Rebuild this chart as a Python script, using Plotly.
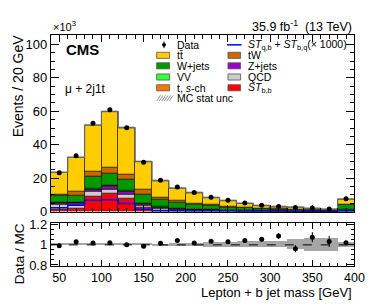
import plotly.graph_objects as go
import numpy as np

# ---------------- data (thousands of events per 20 GeV bin) ----------------
bin_centers = [50, 70, 90, 110, 130, 150, 170, 190, 210, 230, 250, 270, 290, 310, 330, 350, 370, 390]
bin_edges = [40, 60, 80, 100, 120, 140, 160, 180, 200, 220, 240, 260, 280, 300, 320, 340, 360, 380, 400]

data_vals = [23.3, 33.4, 52.8, 61.0, 50.1, 29.5, 18.7, 14.7, 11.4, 8.6, 6.7, 5.1, 3.8, 3.1, 2.5, 2.1, 1.5, 7.6]

st_bb   = [1.5, 2.0, 9.1, 11.0, 8.0, 2.5, 0.2, 0.05, 0.03, 0.02, 0.01, 0.01, 0.01, 0.0, 0.0, 0.0, 0.0, 0.0]
qcd     = [3.0, 2.4, 2.7, 2.5, 2.5, 1.2, 1.4, 0.8, 0.6, 0.5, 0.4, 0.3, 0.25, 0.2, 0.15, 0.1, 0.1, 0.4]
zjets   = [0.6, 0.8, 1.3, 1.5, 1.3, 0.8, 0.9, 0.6, 0.5, 0.4, 0.3, 0.25, 0.2, 0.15, 0.12, 0.1, 0.08, 0.4]
s_ch    = [0.2, 0.3, 0.4, 0.4, 0.4, 0.3, 0.2, 0.15, 0.1, 0.08, 0.06, 0.05, 0.04, 0.03, 0.03, 0.02, 0.02, 0.1]
vv      = [0.1, 0.1, 0.15, 0.15, 0.15, 0.15, 0.1, 0.1, 0.08, 0.07, 0.06, 0.05, 0.04, 0.03, 0.03, 0.02, 0.02, 0.1]
wjets   = [4.0, 4.2, 7.2, 7.0, 6.7, 5.5, 4.6, 3.8, 3.0, 2.4, 1.9, 1.5, 1.2, 1.0, 0.7, 0.6, 0.5, 3.0]
tw      = [0.8, 2.0, 3.2, 3.8, 2.9, 2.5, 1.1, 0.9, 0.7, 0.6, 0.5, 0.4, 0.3, 0.25, 0.2, 0.15, 0.1, 0.3]
ttbar   = [13.3, 20.6, 27.75, 33.45, 28.15, 16.95, 9.9, 7.7, 6.19, 4.23, 3.27, 2.33, 1.56, 1.19, 1.37, 0.96, 0.63, 3.15]

st_qb_x1000 = [2.3, 3.8, 6.7, 7.1, 4.8, 1.4, 0.7, 0.6, 0.5, 0.45, 0.4, 0.35, 0.3, 0.25, 0.2, 0.18, 0.15, 0.4]

ratio_err = [0.004, 0.004, 0.004, 0.004, 0.004, 0.005, 0.006, 0.008, 0.01, 0.012, 0.015, 0.018, 0.022, 0.03, 0.035, 0.05, 0.055, 0.02]
mc_unc_rel = [0.004, 0.004, 0.004, 0.004, 0.004, 0.005, 0.008, 0.012, 0.018, 0.025, 0.028, 0.03, 0.03, 0.03, 0.05, 0.065, 0.065, 0.023]

components = [
    ("ST_bb", st_bb, "#ff0000"),
    ("QCD", qcd, "#cccccc"),
    ("Z+jets", zjets, "#9900cc"),
    ("t, s-ch", s_ch, "#ff7700"),
    ("VV", vv, "#33ff33"),
    ("W+jets", wjets, "#009900"),
    ("tW", tw, "#cc6600"),
    ("ttbar", ttbar, "#ffcc00"),
]

FONT = "Liberation Sans, Arial, sans-serif"
W, H = 374, 307
x0p, x1p = 44, 356
main_top, main_bot = 22.5, 207
rat_top, rat_bot = 219.5, 264.3

def px_x(p):
    return p / W

def px_y(p):
    return 1 - p / H

fig = go.Figure()

# stacked histograms
cum = np.zeros(len(bin_centers))
for name, vals, col in components:
    v = np.array(vals)
    fig.add_trace(go.Bar(x=bin_centers, y=v, base=cum.copy(), width=20,
                         marker=dict(color=col, line=dict(color="black", width=0.6)),
                         showlegend=False, xaxis="x", yaxis="y"))
    cum = cum + v
total = cum

# MC stat unc hatched band
unc_abs = total * np.array(mc_unc_rel)
fig.add_trace(go.Bar(x=bin_centers, y=2 * unc_abs, base=total - unc_abs, width=20,
                     marker=dict(color="rgba(0,0,0,0)", line=dict(width=0),
                                 pattern=dict(shape="/", fgcolor="#555555", bgcolor="rgba(0,0,0,0)", size=4, solidity=0.3)),
                     showlegend=False, xaxis="x", yaxis="y"))

# total outline (step)
tot_step = list(total) + [total[-1]]
fig.add_trace(go.Scatter(x=bin_edges, y=tot_step, mode="lines", line=dict(color="#666666", width=1.2, shape="hv"),
                         showlegend=False, xaxis="x", yaxis="y"))

# ST q,b + ST b,q (x1000) line
st_step = list(st_qb_x1000) + [st_qb_x1000[-1]]
fig.add_trace(go.Scatter(x=bin_edges, y=st_step, mode="lines", line=dict(color="#0000ff", width=1.5, shape="hv"),
                         showlegend=False, xaxis="x", yaxis="y"))

# data points
fig.add_trace(go.Scatter(x=bin_centers, y=data_vals, mode="markers",
                         marker=dict(color="black", size=5),
                         showlegend=False, xaxis="x", yaxis="y"))

# ratio panel
ratio = np.array(data_vals) / total
band = np.array(mc_unc_rel)
fig.add_trace(go.Bar(x=bin_centers, y=2 * band, base=1 - band, width=20,
                     marker=dict(color="#a6a6a6", line=dict(width=0)),
                     showlegend=False, xaxis="x2", yaxis="y2"))
fig.add_trace(go.Scatter(x=bin_centers, y=ratio, mode="markers",
                         marker=dict(color="black", size=5),
                         error_y=dict(type="data", array=ratio_err, color="black", thickness=1, width=0),
                         showlegend=False, xaxis="x2", yaxis="y2"))

shapes = []
# dashed unity line
shapes.append(dict(type="line", xref="x2", yref="y2", x0=40, x1=400, y0=1, y1=1,
                   line=dict(color="black", width=1, dash="dash")))

annotations = []

# legend (manual two-column layout)
rows = [32.3, 43.3, 54.3, 66.0, 77.3, 88.3]
col1_box = (152.7, 166.0)
col2_box = (226.0, 239.0)
col1_txt = 172.0
col2_txt = 244.5
LF = 10.5

def box(xl, xr, yc, color):
    shapes.append(dict(type="rect", xref="paper", yref="paper",
                       x0=px_x(xl), x1=px_x(xr), y0=px_y(yc + 3.2), y1=px_y(yc - 3.2),
                       fillcolor=color, line=dict(color="#555555", width=0.8)))

def text(xp, yc, s, size=LF, anchor="left"):
    annotations.append(dict(x=px_x(xp), y=px_y(yc), xref="paper", yref="paper", text=s,
                            showarrow=False, xanchor=anchor, yanchor="middle",
                            font=dict(family=FONT, size=size, color="black")))

# Data marker in legend
shapes.append(dict(type="circle", xref="paper", yref="paper",
                   x0=px_x(158.3), x1=px_x(162.3), y0=px_y(rows[0] + 2), y1=px_y(rows[0] - 2),
                   fillcolor="black", line=dict(color="black", width=0)))
shapes.append(dict(type="line", xref="paper", yref="paper",
                   x0=px_x(160.3), x1=px_x(160.3), y0=px_y(rows[0] + 3.5), y1=px_y(rows[0] - 3.5),
                   line=dict(color="black", width=1)))
text(col1_txt, rows[0], "Data")
box(*col1_box, rows[1], "#ffcc00"); text(col1_txt, rows[1], "t\u0074\u0304")
box(*col1_box, rows[2], "#009900"); text(col1_txt, rows[2], "W+jets")
box(*col1_box, rows[3], "#33ff33"); text(col1_txt, rows[3], "VV")
box(*col1_box, rows[4], "#ff7700"); text(col1_txt, rows[4], "t, <i>s</i>-ch")
# hatched box for MC stat unc
for k in range(6):
    xa = col1_box[0] + k * 2.6
    shapes.append(dict(type="line", xref="paper", yref="paper",
                       x0=px_x(xa), x1=px_x(xa + 4), y0=px_y(rows[5] + 3), y1=px_y(rows[5] - 3),
                       line=dict(color="#888888", width=0.9)))
text(col1_txt, rows[5], "MC stat unc")

shapes.append(dict(type="line", xref="paper", yref="paper",
                   x0=px_x(col2_box[0] - 1), x1=px_x(col2_box[1] + 1), y0=px_y(rows[0]), y1=px_y(rows[0]),
                   line=dict(color="#0000ff", width=1.5)))
text(col2_txt, rows[0], "<i>ST</i><sub>q,b</sub> + <i>ST</i><sub>b,q</sub>(× 1000)")
box(*col2_box, rows[1], "#cc6600"); text(col2_txt, rows[1], "tW")
box(*col2_box, rows[2], "#9900cc"); text(col2_txt, rows[2], "Z+jets")
box(*col2_box, rows[3], "#cccccc"); text(col2_txt, rows[3], "QCD")
box(*col2_box, rows[4], "#ff0000"); text(col2_txt, rows[4], "<i>ST</i><sub>b,b</sub>")

# CMS label etc.
annotations.append(dict(x=px_x(58), y=px_y(37.5), xref="paper", yref="paper", text="<b>CMS</b>",
                        showarrow=False, xanchor="left", yanchor="middle",
                        font=dict(family=FONT, size=15, color="black")))
annotations.append(dict(x=px_x(57), y=px_y(78.5), xref="paper", yref="paper", text="\u03bc + 2j1t",
                        showarrow=False, xanchor="left", yanchor="middle",
                        font=dict(family=FONT, size=12, color="black")))
annotations.append(dict(x=px_x(356), y=px_y(12.5), xref="paper", yref="paper",
                        text="35.9 fb<sup>-1</sup>  (13 TeV)",
                        showarrow=False, xanchor="right", yanchor="middle",
                        font=dict(family=FONT, size=12.5, color="black")))
annotations.append(dict(x=px_x(44), y=px_y(13), xref="paper", yref="paper",
                        text="\u00d710<sup>3</sup>",
                        showarrow=False, xanchor="left", yanchor="middle",
                        font=dict(family=FONT, size=11, color="black")))
annotations.append(dict(x=px_x(10), y=px_y(19), xref="paper", yref="paper",
                        text="Events / 20 GeV", textangle=-90,
                        showarrow=False, xanchor="center", yanchor="top",
                        font=dict(family=FONT, size=14, color="black")))
annotations.append(dict(x=px_x(12), y=px_y(251), xref="paper", yref="paper",
                        text="Data / MC", textangle=-90,
                        showarrow=False, xanchor="center", yanchor="middle",
                        font=dict(family=FONT, size=13.5, color="black")))
annotations.append(dict(x=px_x(356), y=px_y(291.5), xref="paper", yref="paper",
                        text="Lepton + b jet mass [GeV]",
                        showarrow=False, xanchor="right", yanchor="middle",
                        font=dict(family=FONT, size=13, color="black")))

axis_common = dict(showgrid=False, zeroline=False, showline=True, linecolor="black", linewidth=1,
                   mirror="ticks", ticks="inside", tickcolor="black",
                   tickfont=dict(family=FONT, size=13, color="black"))

x2_common = dict(axis_common)
x2_common["tickfont"] = dict(family=FONT, size=12.5, color="black")

fig.update_layout(
    width=W, height=H, margin=dict(l=0, r=0, t=0, b=0),
    paper_bgcolor="white", plot_bgcolor="white",
    barmode="overlay", bargap=0, showlegend=False,
    font=dict(family=FONT, color="black"),
    xaxis=dict(domain=[px_x(x0p), px_x(x1p)], range=[40, 400], anchor="y",
               showticklabels=False, tick0=0, dtick=50, ticklen=7,
               minor=dict(dtick=10, ticklen=3.5, ticks="inside", tickcolor="black"),
               **axis_common),
    yaxis=dict(domain=[px_y(main_bot), px_y(main_top)], range=[0, 105.4], anchor="x",
               tick0=0, dtick=20, ticklen=8,
               minor=dict(dtick=5, ticklen=4, ticks="inside", tickcolor="black"),
               **axis_common),
    xaxis2=dict(domain=[px_x(x0p), px_x(x1p)], range=[40, 400], anchor="y2",
                tick0=0, dtick=50, ticklen=6, ticklabelstandoff=0,
                minor=dict(dtick=10, ticklen=3, ticks="inside", tickcolor="black"),
                **x2_common),
    yaxis2=dict(domain=[px_y(rat_bot), px_y(rat_top)], range=[0.787, 1.213], anchor="x2",
                tickvals=[0.8, 1.0, 1.2], ticktext=["0.8", "1", "1.2"], ticklen=7,
                minor=dict(tickvals=[0.85, 0.9, 0.95, 1.05, 1.1, 1.15], ticklen=3.5, ticks="inside", tickcolor="black"),
                **axis_common),
    shapes=shapes,
    annotations=annotations,
)

fig.write_html("out.html")
